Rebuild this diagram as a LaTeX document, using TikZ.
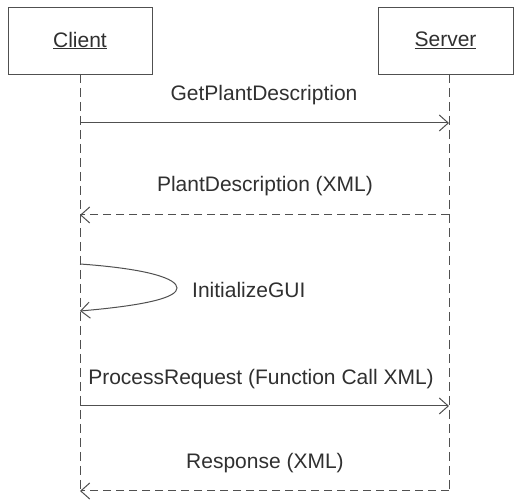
\documentclass[tikz,border=0pt]{standalone}
\usepackage{fontspec}
\setmainfont{Liberation Sans}
\usetikzlibrary{arrows.meta}
\definecolor{linec}{HTML}{505050}
\definecolor{textc}{HTML}{303030}
\begin{document}
\begin{tikzpicture}[x=1pt,y=-1pt,
  every node/.style={text=textc,font=\fontsize{21}{25}\selectfont},
  objbox/.style={draw=linec,line width=0.9pt,minimum width=144pt,minimum height=67pt,inner sep=0pt},
  lifeline/.style={draw=linec,line width=1pt,dash pattern=on 9pt off 5pt},
  msg/.style={draw=linec,line width=1pt,-{Straight Barb[length=9pt,width=16pt,line width=1pt]}},
  reply/.style={msg,dash pattern=on 8pt off 5pt},
  lbl/.style={inner sep=0pt}]
\useasboundingbox (0,0) rectangle (515,502);
\fill[white] (0,0) rectangle (515,502);
\node[objbox] (client) at (80,40.5) {\underline{Client}};
\node[objbox,minimum width=135pt] (server) at (445.5,40.5) {\underline{Server}};
\coordinate (cend) at (80,493);
\coordinate (send) at (449,493);
\draw[lifeline] (80,74) -- (cend);
\draw[lifeline] (449,74) -- (send);
% messages
\coordinate (c1) at (80,123); \coordinate (s1) at (449,123);
\coordinate (c2) at (80,215); \coordinate (s2) at (449,215);
\coordinate (c3a) at (80,264); \coordinate (c3b) at (80,311);
\coordinate (c4) at (80,406); \coordinate (s4) at (449,406);
\coordinate (c5) at (80,491); \coordinate (s5) at (449,491);
\draw[msg] (c1) -- (s1);
\node[lbl] (l1) at (264,95) {GetPlantDescription};
\draw[reply] (s2) -- (c2);
\node[lbl] (l2) at (265,186) {PlantDescription (XML)};
\draw[msg] (c3a) .. controls (150,269) and (177,279) .. (177,288) .. controls (177,297) and (150,305) .. (c3b);
\node[lbl,anchor=west] (l3) at (192,290) {InitializeGUI};
\draw[msg] (c4) -- (s4);
\node[lbl] (l4) at (261,379) {ProcessRequest (Function Call XML)};
\draw[reply] (s5) -- (c5);
\node[lbl] (l5) at (265,463) {Response (XML)};
\end{tikzpicture}
\end{document}
